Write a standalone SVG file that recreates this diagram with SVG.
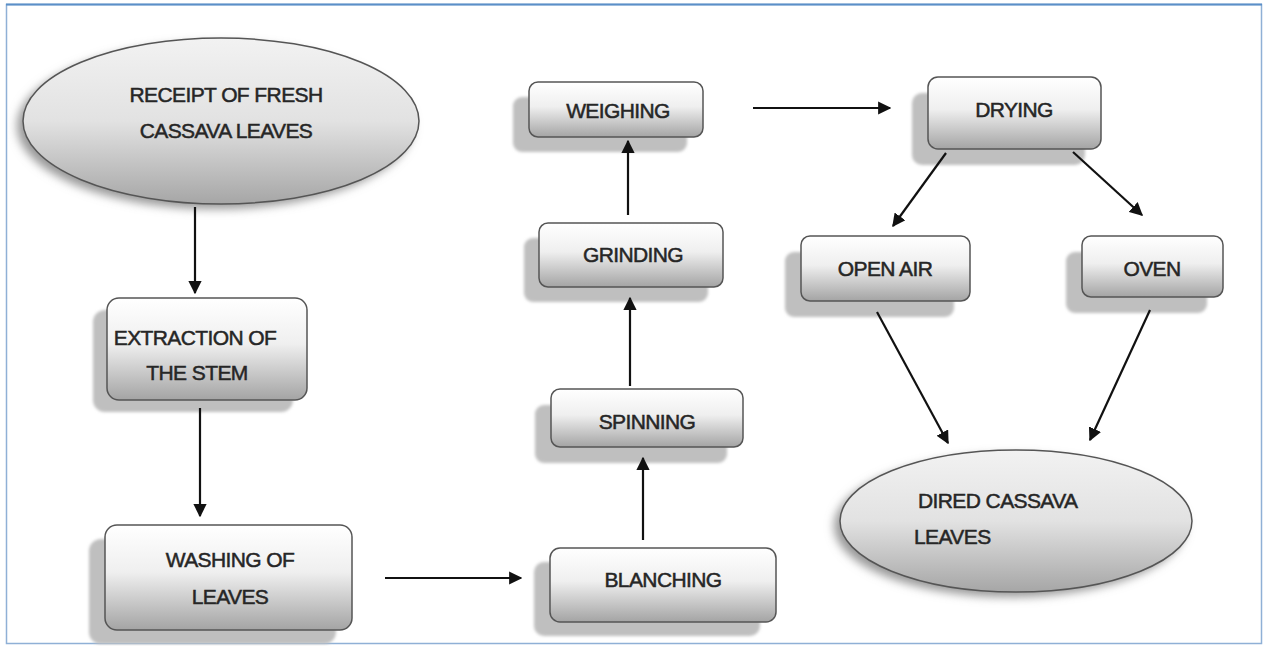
<svg xmlns="http://www.w3.org/2000/svg" width="1266" height="646" viewBox="0 0 1266 646">
<defs>
<linearGradient id="gBox" x1="0" y1="0" x2="0" y2="1">
<stop offset="0" stop-color="#ffffff"/>
<stop offset="0.45" stop-color="#efefef"/>
<stop offset="1" stop-color="#a4a4a4"/>
</linearGradient>
<linearGradient id="gEll" x1="0" y1="0" x2="0" y2="1">
<stop offset="0" stop-color="#f2f2f2"/>
<stop offset="0.5" stop-color="#e2e2e2"/>
<stop offset="1" stop-color="#a6a6a6"/>
</linearGradient>
<filter id="blur" x="-20%" y="-20%" width="140%" height="140%">
<feGaussianBlur stdDeviation="1.5"/>
</filter>
<filter id="eshadow" x="-20%" y="-20%" width="140%" height="140%">
<feGaussianBlur stdDeviation="5"/>
</filter>
<marker id="arr" viewBox="0 0 10 10" refX="9" refY="5" markerWidth="6" markerHeight="6" orient="auto" markerUnits="strokeWidth">
<path d="M0,0 L10,5 L0,10 z" fill="#111"/>
</marker>
</defs>
<style>
.shadow{fill:#bfbfbf;filter:url(#blur)}
.box{fill:url(#gBox);stroke:#555;stroke-width:1.5}
.ell{fill:url(#gEll);stroke:#555;stroke-width:1.5}
.esh{fill:#999;filter:url(#eshadow)}
.t,.tl{font-family:"Liberation Sans",Arial,sans-serif;font-size:21px;fill:#262626;stroke:#262626;stroke-width:0.5;letter-spacing:-0.6px}
.t{text-anchor:middle}
.c{stroke:#111;stroke-width:2.2;fill:none;marker-end:url(#arr)}
</style>
<rect x="0" y="0" width="1266" height="646" fill="#ffffff"/>
<rect x="6.5" y="4.5" width="1255" height="639" fill="none" stroke="#8fb0d6" stroke-width="1.5"/>
<line x1="6" y1="4.5" x2="1262" y2="4.5" stroke="#5b8fc8" stroke-width="2"/>

<g id="receipt">
<ellipse class="esh" cx="215" cy="126" rx="198" ry="83"/>
<ellipse class="ell" cx="221" cy="121" rx="198" ry="83"/>
<text class="t" x="226" y="102" font-size="20">RECEIPT OF FRESH</text>
<text class="t" x="226" y="138" font-size="20">CASSAVA LEAVES</text>
</g>

<g id="extraction">
<rect class="shadow" x="93" y="310" width="200" height="102" rx="12"/>
<rect class="box" x="107" y="298" width="200" height="102" rx="12"/>
<text class="t" x="195" y="345">EXTRACTION OF</text>
<text class="t" x="197" y="380">THE STEM</text>
</g>

<g id="washing">
<rect class="shadow" x="89" y="539" width="247" height="105" rx="12"/>
<rect class="box" x="105" y="525" width="247" height="105" rx="12"/>
<text class="t" x="230" y="567">WASHING OF</text>
<text class="t" x="230" y="604">LEAVES</text>
</g>

<g id="blanching">
<rect class="shadow" x="534" y="562" width="226" height="74" rx="10"/>
<rect class="box" x="550" y="548" width="226" height="74" rx="10"/>
<text class="t" x="663" y="587">BLANCHING</text>
</g>

<g id="spinning">
<rect class="shadow" x="535" y="405" width="192" height="58" rx="9"/>
<rect class="box" x="551" y="389" width="192" height="58" rx="9"/>
<text class="t" x="647" y="429">SPINNING</text>
</g>

<g id="grinding">
<rect class="shadow" x="524" y="238" width="184" height="64" rx="9"/>
<rect class="box" x="539" y="223" width="184" height="64" rx="9"/>
<text class="t" x="633" y="262">GRINDING</text>
</g>

<g id="weighing">
<rect class="shadow" x="513" y="97" width="174" height="55" rx="9"/>
<rect class="box" x="529" y="82" width="174" height="55" rx="9"/>
<text class="t" x="618" y="118">WEIGHING</text>
</g>

<g id="drying">
<rect class="shadow" x="912" y="93" width="173" height="72" rx="10"/>
<rect class="box" x="928" y="77" width="173" height="72" rx="10"/>
<text class="t" x="1014" y="117">DRYING</text>
</g>

<g id="openair">
<rect class="shadow" x="785" y="252" width="169" height="65" rx="9"/>
<rect class="box" x="801" y="236" width="169" height="65" rx="9"/>
<text class="t" x="885" y="276">OPEN AIR</text>
</g>

<g id="oven">
<rect class="shadow" x="1066" y="252" width="141" height="61" rx="9"/>
<rect class="box" x="1082" y="236" width="141" height="61" rx="9"/>
<text class="t" x="1152" y="276">OVEN</text>
</g>

<g id="dired">
<ellipse class="esh" cx="1010" cy="526" rx="176" ry="71"/>
<ellipse class="ell" cx="1016" cy="521" rx="176" ry="71"/>
<text class="tl" x="918" y="508">DIRED CASSAVA</text>
<text class="tl" x="914" y="544">LEAVES</text>
</g>

<g id="connectors">
<line class="c" x1="195" y1="207" x2="195" y2="293"/>
<line class="c" x1="200" y1="408" x2="200" y2="516"/>
<line class="c" x1="385" y1="578" x2="521" y2="578"/>
<line class="c" x1="643" y1="540" x2="643" y2="458"/>
<line class="c" x1="630" y1="386" x2="630" y2="298"/>
<line class="c" x1="628" y1="215" x2="628" y2="141"/>
<line class="c" x1="753" y1="108" x2="890" y2="108"/>
<line class="c" x1="946" y1="153" x2="893" y2="226"/>
<line class="c" x1="1073" y1="152" x2="1142" y2="215"/>
<line class="c" x1="877" y1="312" x2="948" y2="443"/>
<line class="c" x1="1150" y1="310" x2="1090" y2="440"/>
</g>
</svg>
